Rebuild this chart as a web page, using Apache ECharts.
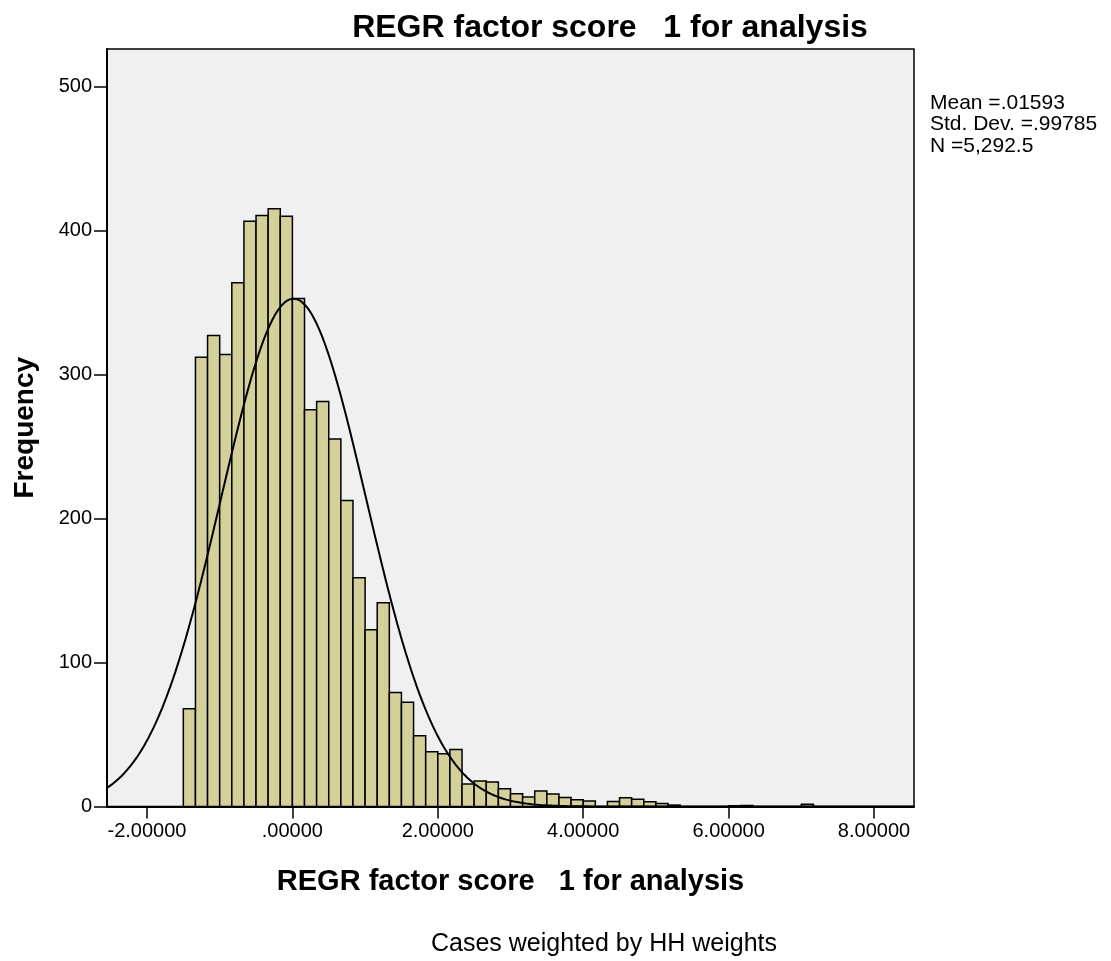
<!DOCTYPE html>
<html>
<head>
<meta charset="utf-8">
<script src="https://cdn.jsdelivr.net/npm/echarts@6/dist/echarts.min.js"></script>
<style>
    html, body { margin: 0; padding: 0; background: #fff; }
    #chart { width: 1111px; height: 961px; }
</style>
</head>
<body>
<div id="chart"></div>
<script>
// 数据
var binStart = -1.5;
var binWidth = 1 / 6;
var freq = [
    67.8, 311.9, 327, 313.8, 363.6, 406.4, 410.4, 415, 409.9, 352.7,
    275.5, 281.3, 255.2, 212.5, 158.8, 122.7, 141.4, 79.1, 72.4, 49.2,
    38.1, 36.7, 39.5, 15.6, 17.7, 17, 12.4, 8.9, 6.6, 10.8,
    8.7, 6.3, 4.7, 3.8, 0, 3.5, 6.1, 5, 3.3, 2,
    1, 0, 0, 0, 0, 0.5, 0.7, 0, 0, 0,
    0, 1.5
];
var xTicks = [-2, 0, 2, 4, 6, 8];
var yTicks = [0, 100, 200, 300, 400, 500];
var mean = 0.01593, sd = 0.99785, n = 5292.5;
var statLines = ['Mean =.01593', 'Std. Dev. =.99785', 'N =5,292.5'];

var font = 'Liberation Sans, Arial, sans-serif';

// 直方图的柱子
var bars = [];
for (var i = 0; i < freq.length; i++) {
    if (freq[i] > 0) {
        bars.push([binStart + i * binWidth, binStart + (i + 1) * binWidth, freq[i]]);
    }
}

// 正态曲线 (按均值、标准差、N)
var curve = [];
for (var x = -2.55; x <= 8.56; x += 0.02) {
    var z = (x - mean) / sd;
    curve.push([x, n * binWidth / (sd * Math.sqrt(2 * Math.PI)) * Math.exp(-z * z / 2)]);
}

function fmtX(v) {
    var s = v.toFixed(5);
    return s.replace(/^0\./, '.');
}

var chart = echarts.init(document.getElementById('chart'));
var option = {
    animation: false,
    title: {
        text: 'REGR factor score   1 for analysis',
        left: 605,
        textAlign: 'center',
        top: 7,
        textStyle: { fontFamily: font, fontSize: 32, fontWeight: 'bold', color: '#000' }
    },
    grid: {
        left: 107,
        right: 197,
        top: 49,
        bottom: 154.5,
        show: true,
        backgroundColor: '#f0f0f0',
        borderColor: '#000',
        borderWidth: 1.5
    },
    xAxis: {
        type: 'value',
        min: -2.55,
        max: 8.55,
        name: 'REGR factor score   1 for analysis',
        nameLocation: 'middle',
        nameGap: 61,
        nameTextStyle: { fontFamily: font, fontSize: 29, fontWeight: 'bold', color: '#000' },
        axisLine: { show: true, onZero: false, lineStyle: { color: '#000', width: 2 } },
        axisTick: { show: true, length: 12, customValues: xTicks, lineStyle: { color: '#000', width: 1.5 } },
        axisLabel: {
            customValues: xTicks,
            margin: 15,
            formatter: fmtX,
            fontFamily: font, fontSize: 20, color: '#000'
        },
        splitLine: { show: false }
    },
    yAxis: {
        type: 'value',
        min: 0,
        max: 526,
        name: 'Frequency',
        nameLocation: 'middle',
        nameRotate: 90,
        nameGap: 68,
        nameTextStyle: { fontFamily: font, fontSize: 28, fontWeight: 'bold', color: '#000' },
        axisLine: { show: true, onZero: false, lineStyle: { color: '#000', width: 2 } },
        axisTick: { show: true, length: 13, customValues: yTicks, lineStyle: { color: '#000', width: 1.5 } },
        axisLabel: {
            customValues: yTicks,
            margin: 15,
            fontFamily: font, fontSize: 20, color: '#000'
        },
        splitLine: { show: false }
    },
    series: [
        {
            type: 'custom',
            data: bars,
            encode: { x: [0, 1], y: 2 },
            renderItem: function (params, api) {
                var p0 = api.coord([api.value(0), api.value(2)]);
                var p1 = api.coord([api.value(1), 0]);
                return {
                    type: 'rect',
                    shape: { x: p0[0], y: p0[1], width: p1[0] - p0[0], height: p1[1] - p0[1] },
                    style: { fill: '#d4d09a', stroke: '#000', lineWidth: 1.5 }
                };
            }
        },
        {
            type: 'line',
            data: curve,
            showSymbol: false,
            smooth: false,
            clip: true,
            lineStyle: { color: '#000', width: 2 }
        }
    ],
    graphic: [
        {
            type: 'text',
            x: 930,
            y: 92,
            style: {
                text: statLines.join('\n'),
                fontFamily: font, fontSize: 21, lineHeight: 21.5, fill: '#000'
            }
        },
        {
            type: 'text',
            x: 604,
            y: 944,
            style: {
                text: 'Cases weighted by HH weights',
                fontFamily: font, fontSize: 25, fill: '#000',
                align: 'center', verticalAlign: 'middle'
            }
        }
    ]
};
chart.setOption(option);
</script>
</body>
</html>
